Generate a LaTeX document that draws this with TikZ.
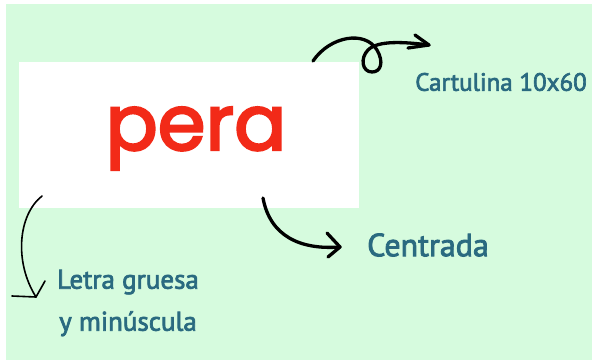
\documentclass[tikz,border=0pt]{standalone}
\usepackage{fontspec}
\setmainfont{PT Sans}
\newfontfamily\perafont[FakeBold=3]{Poppins}
\newfontfamily\lblfont[FakeBold=2.6]{PT Sans}
\usetikzlibrary{arrows.meta}
\definecolor{bggreen}{HTML}{D6FBDE}
\definecolor{labelteal}{HTML}{2A6A80}
\definecolor{perared}{HTML}{F22A18}
\begin{document}
\begin{tikzpicture}[x=1pt,y=-1pt,
  card/.style={fill=white, draw=none, minimum width=340pt, minimum height=146pt, inner sep=0pt},
  lbl/.style={text=labelteal, inner sep=0pt},
  thickarrow/.style={draw=black, line width=3.3pt, line cap=round, line join=round},
  thinarrow/.style={draw=black, line width=1.6pt, line cap=round, line join=round}]
\useasboundingbox (0,0) rectangle (592,360);
\fill[white] (0,0) rectangle (592,360);
\fill[bggreen] (6,4) rectangle (592,360);
\node[card] (card) at (189,135) {};
\node[anchor=base, text=perared, inner sep=0pt, font=\perafont\fontsize{77}{77}\selectfont] (word) at (196,150) {pera};
\node[lbl, font=\lblfont\fontsize{25}{30}\selectfont] (cart) at (501,82) {Cartulina 10x60};
\node[lbl, font=\lblfont\fontsize{32}{38}\selectfont] (cent) at (428,245) {Centrada};
\node[lbl, align=center, font=\lblfont\fontsize{27}{42}\selectfont] (letra) at (128,303) {Letra gruesa\\y minúscula};
% top loop arrow
\coordinate (s1) at (313,61);
\coordinate (t1) at (429,45);
\draw[thickarrow] (s1) .. controls (330,36) and (365,30) .. (377,50)
   .. controls (384,62) and (381,72) .. (372,72)
   .. controls (362,72) and (360,58) .. (368,50)
   .. controls (378,40) and (405,42) .. (t1);
\draw[thickarrow] (415,35) -- (t1) -- (408,48);
% centrada arrow
\coordinate (s2) at (263,198);
\coordinate (t2) at (340,247);
\draw[thickarrow] (s2) .. controls (270,236) and (300,250) .. (t2);
\draw[thickarrow] (327,233) -- (t2) -- (328,257);
% left arrow
\coordinate (s3) at (42,196);
\coordinate (t3) at (36,297);
\draw[thinarrow] (s3) .. controls (18,215) and (14,262) .. (t3);
\draw[thinarrow] (12,296) -- (t3) -- (45,281);
\end{tikzpicture}
\end{document}
